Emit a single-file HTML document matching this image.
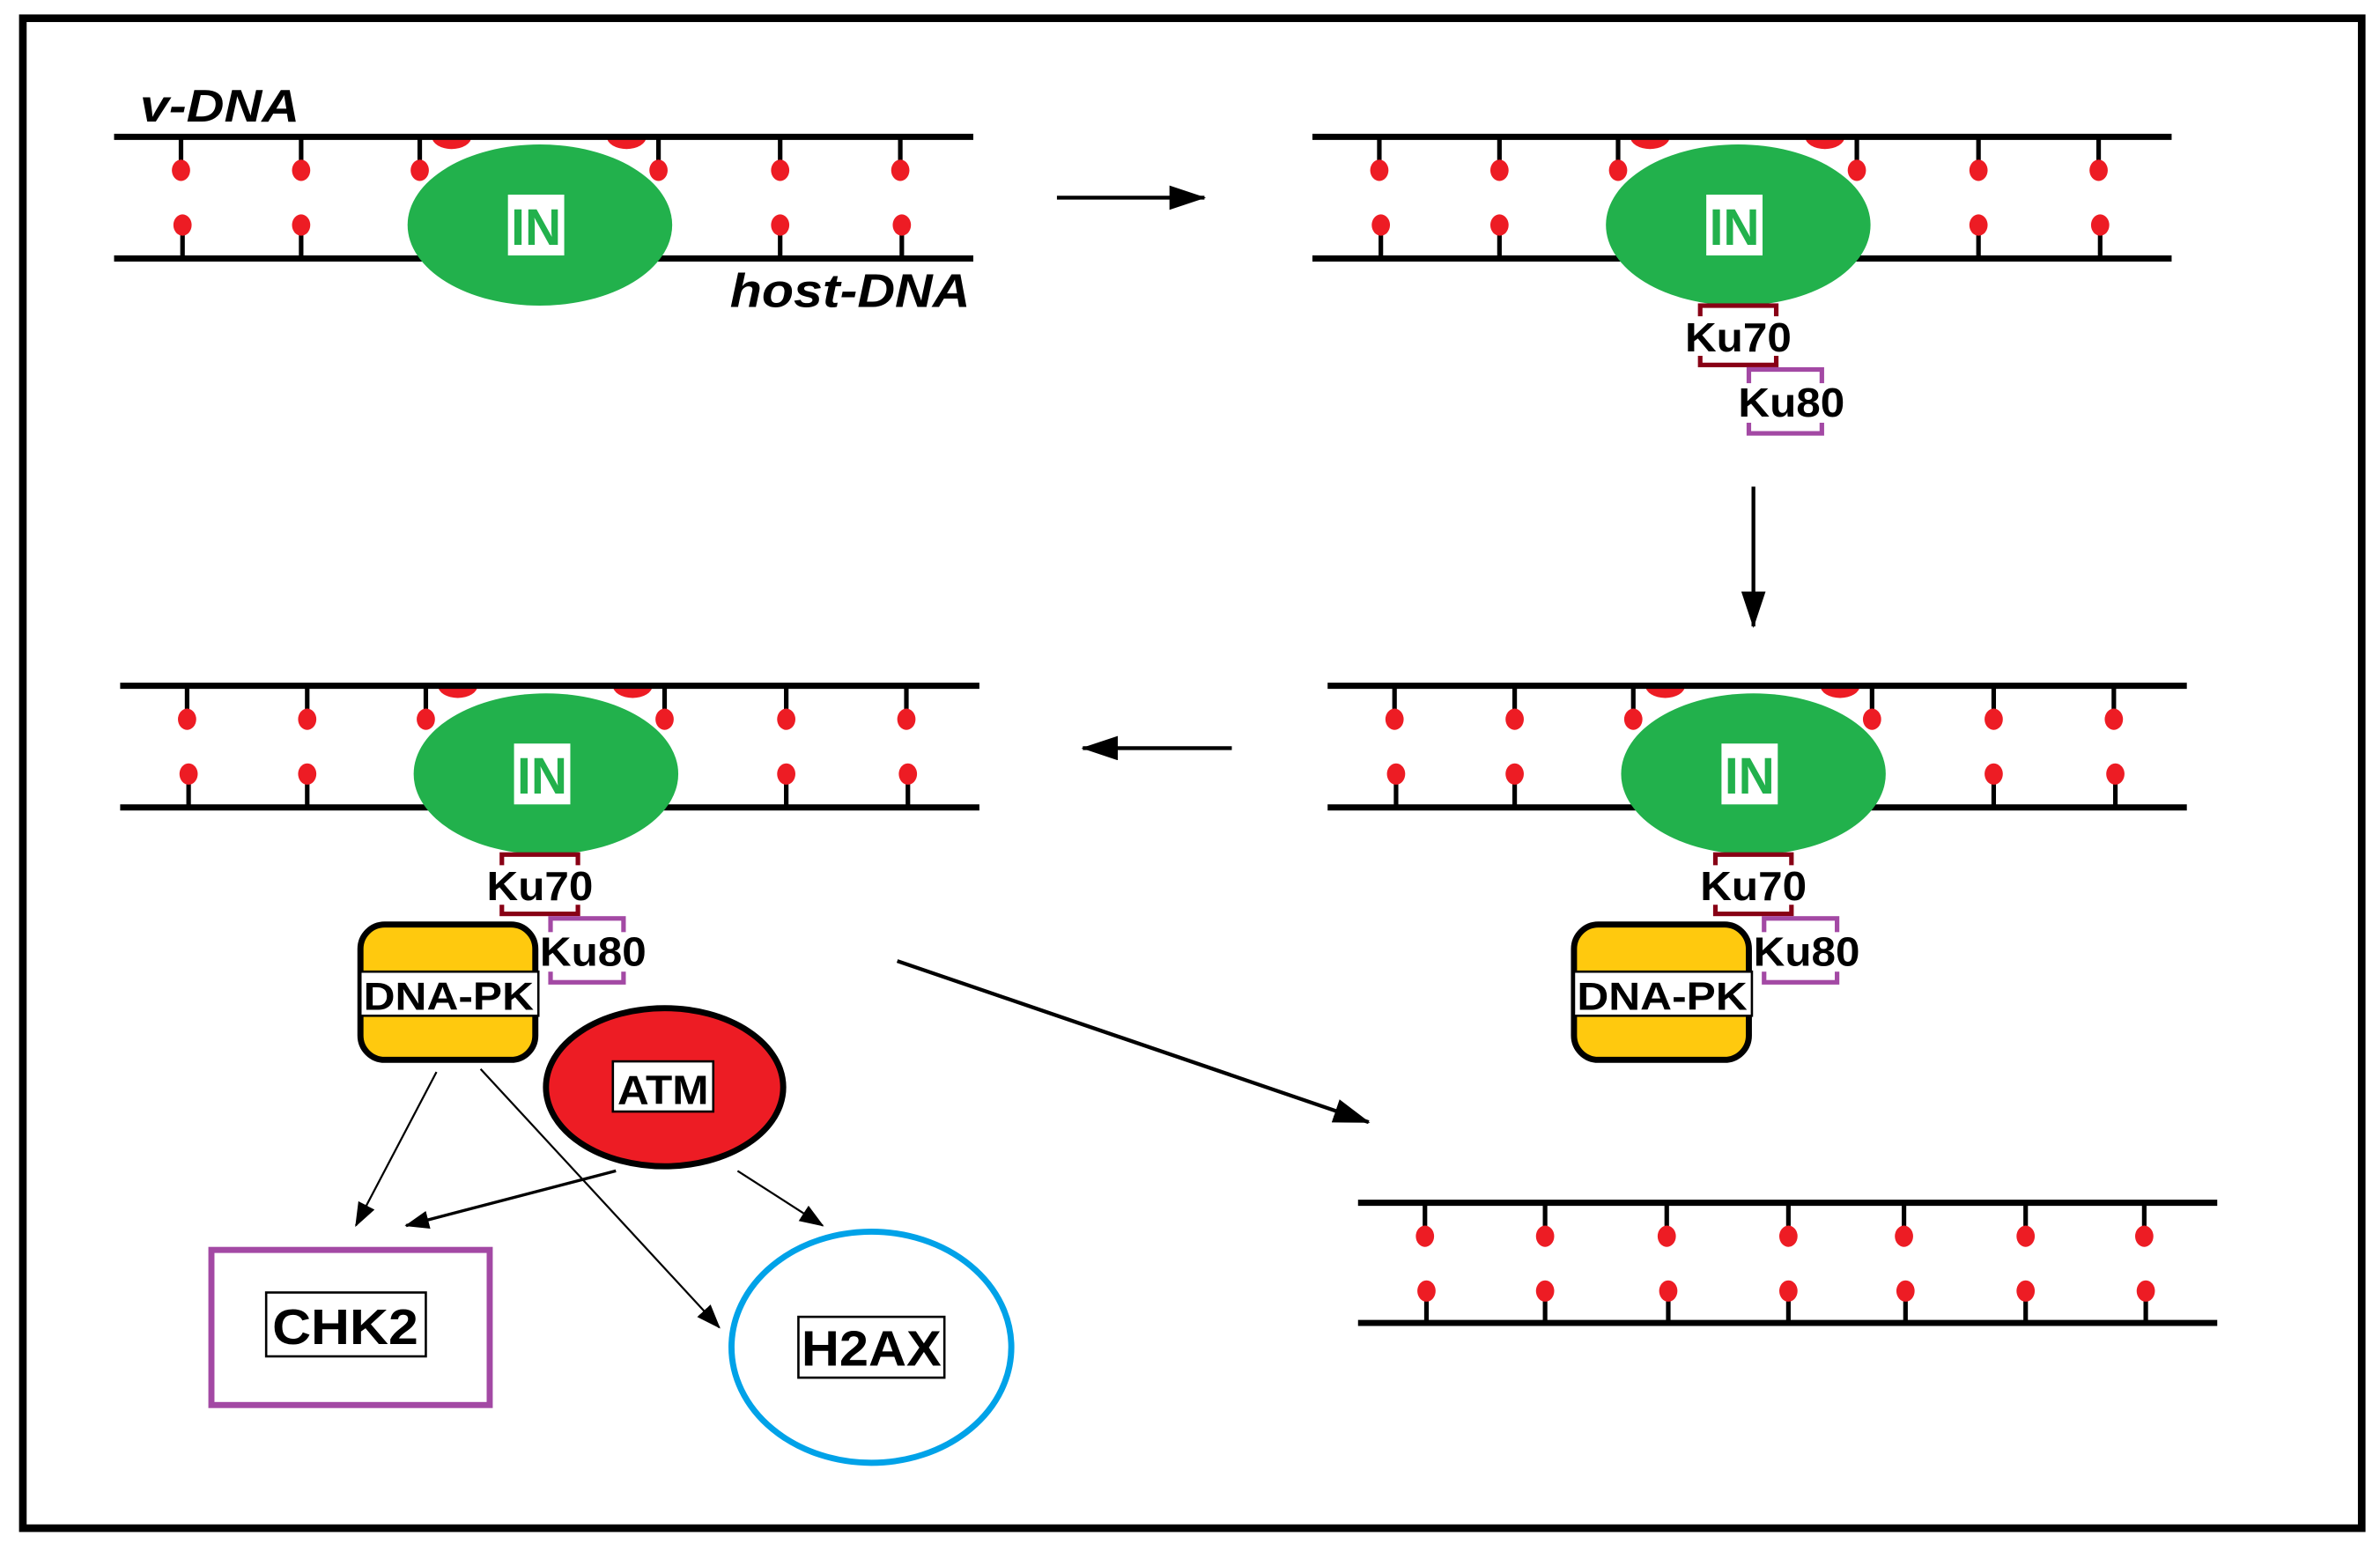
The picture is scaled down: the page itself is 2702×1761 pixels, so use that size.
<!DOCTYPE html>
<html><head><meta charset="utf-8"><style>
html,body{margin:0;padding:0;background:#fff;}
svg{display:block;}
text{font-family:"Liberation Sans",sans-serif;}
</style></head><body>
<svg width="2702" height="1761" viewBox="0 0 1565 1020" xmlns="http://www.w3.org/2000/svg">
<defs>
<marker id="ahs" markerWidth="16" markerHeight="12" refX="15" refY="6" orient="auto" markerUnits="userSpaceOnUse">
<path d="M0,0 L16,6 L0,12 z" fill="#000"/></marker>
<marker id="ahb" markerWidth="24" markerHeight="16" refX="23" refY="8" orient="auto" markerUnits="userSpaceOnUse">
<path d="M0,0 L24,8 L0,16 z" fill="#000"/></marker>
<g id="dna">
<path d="M284,90 A13,8 0 0 0 310,90 z" fill="#ed1c24"/>
<path d="M399,90 A13,8 0 0 0 425,90 z" fill="#ed1c24"/>
<line x1="75" y1="90" x2="640" y2="90" stroke="#000" stroke-width="4"/>
<line x1="75" y1="170" x2="640" y2="170" stroke="#000" stroke-width="4"/>
<g stroke="#000" stroke-width="3">
<line x1="119" y1="90" x2="119" y2="112"/><line x1="198" y1="90" x2="198" y2="112"/><line x1="276" y1="90" x2="276" y2="112"/>
<line x1="433" y1="90" x2="433" y2="112"/><line x1="513" y1="90" x2="513" y2="112"/><line x1="592" y1="90" x2="592" y2="112"/>
<line x1="120" y1="148" x2="120" y2="170"/><line x1="198" y1="148" x2="198" y2="170"/>
<line x1="513" y1="148" x2="513" y2="170"/><line x1="593" y1="148" x2="593" y2="170"/>
</g>
<g fill="#ed1c24">
<ellipse cx="119" cy="112" rx="6" ry="7"/><ellipse cx="198" cy="112" rx="6" ry="7"/><ellipse cx="276" cy="112" rx="6" ry="7"/>
<ellipse cx="433" cy="112" rx="6" ry="7"/><ellipse cx="513" cy="112" rx="6" ry="7"/><ellipse cx="592" cy="112" rx="6" ry="7"/>
<ellipse cx="120" cy="148" rx="6" ry="7"/><ellipse cx="198" cy="148" rx="6" ry="7"/>
<ellipse cx="513" cy="148" rx="6" ry="7"/><ellipse cx="593" cy="148" rx="6" ry="7"/>
</g>
<ellipse cx="355" cy="148" rx="87" ry="53" fill="#22b14c"/>
<rect x="334" y="128" width="37" height="40" fill="#fff"/>
<text x="352.5" y="161" font-size="34" fill="#22b14c" text-anchor="middle" font-weight="bold" textLength="33" lengthAdjust="spacingAndGlyphs">IN</text>
</g>
<g id="ku">
<rect x="326" y="201" width="50" height="39" fill="#fff" stroke="#880015" stroke-width="3"/>
<rect x="358" y="243" width="48" height="42" fill="#fff" stroke="#a349a4" stroke-width="3"/>
<rect x="318" y="208" width="70" height="26" fill="#fff"/>
<rect x="350" y="252" width="72" height="26" fill="#fff"/>
<text x="351" y="231" font-size="27" font-weight="bold" text-anchor="middle" textLength="70" lengthAdjust="spacingAndGlyphs">Ku70</text>
<text x="386" y="274" font-size="27" font-weight="bold" text-anchor="middle" textLength="70" lengthAdjust="spacingAndGlyphs">Ku80</text>
</g>
<g id="pk">
<rect x="0" y="0" width="115" height="89" rx="16" fill="#ffc90e" stroke="#000" stroke-width="4"/>
<rect x="0" y="31" width="117" height="29" fill="#fff" stroke="#000" stroke-width="1.5"/>
<text x="58" y="56" font-size="26" font-weight="bold" text-anchor="middle" textLength="112" lengthAdjust="spacingAndGlyphs">DNA-PK</text>
</g>
</defs>
<rect x="15" y="12" width="1538" height="993" fill="#fff" stroke="#000" stroke-width="5"/>

<use href="#dna"/>
<text x="92" y="80" font-size="30" font-style="italic" font-weight="bold" textLength="105" lengthAdjust="spacingAndGlyphs">v-DNA</text>
<text x="480" y="202" font-size="31" font-style="italic" font-weight="bold" textLength="158" lengthAdjust="spacingAndGlyphs">host-DNA</text>
<line x1="695" y1="130" x2="792" y2="130" stroke="#000" stroke-width="2.5" marker-end="url(#ahb)"/>

<use href="#dna" transform="translate(788,0)"/>
<use href="#ku" transform="translate(792,0)"/>
<line x1="1153" y1="320" x2="1153" y2="412" stroke="#000" stroke-width="2.5" marker-end="url(#ahb)"/>

<use href="#dna" transform="translate(4,361)"/>
<use href="#ku" transform="translate(4,361)"/>
<use href="#pk" transform="translate(237,608)"/>
<line x1="810" y1="492" x2="712" y2="492" stroke="#000" stroke-width="2.5" marker-end="url(#ahb)"/>

<use href="#dna" transform="translate(798,361)"/>
<use href="#ku" transform="translate(802,361)"/>
<use href="#pk" transform="translate(1035,608)"/>

<line x1="590" y1="632" x2="900" y2="738" stroke="#000" stroke-width="2.5" marker-end="url(#ahb)"/>

<g>
<line x1="893" y1="791" x2="1458" y2="791" stroke="#000" stroke-width="4"/>
<line x1="893" y1="870" x2="1458" y2="870" stroke="#000" stroke-width="4"/>
<g stroke="#000" stroke-width="3">
<line x1="937" y1="791" x2="937" y2="813"/><line x1="1016" y1="791" x2="1016" y2="813"/><line x1="1096" y1="791" x2="1096" y2="813"/><line x1="1176" y1="791" x2="1176" y2="813"/><line x1="1252" y1="791" x2="1252" y2="813"/><line x1="1332" y1="791" x2="1332" y2="813"/><line x1="1410" y1="791" x2="1410" y2="813"/>
<line x1="938" y1="849" x2="938" y2="870"/><line x1="1016" y1="849" x2="1016" y2="870"/><line x1="1097" y1="849" x2="1097" y2="870"/><line x1="1176" y1="849" x2="1176" y2="870"/><line x1="1253" y1="849" x2="1253" y2="870"/><line x1="1332" y1="849" x2="1332" y2="870"/><line x1="1411" y1="849" x2="1411" y2="870"/>
</g>
<g fill="#ed1c24">
<ellipse cx="937" cy="813" rx="6" ry="7"/><ellipse cx="1016" cy="813" rx="6" ry="7"/><ellipse cx="1096" cy="813" rx="6" ry="7"/><ellipse cx="1176" cy="813" rx="6" ry="7"/><ellipse cx="1252" cy="813" rx="6" ry="7"/><ellipse cx="1332" cy="813" rx="6" ry="7"/><ellipse cx="1410" cy="813" rx="6" ry="7"/>
<ellipse cx="938" cy="849" rx="6" ry="7"/><ellipse cx="1016" cy="849" rx="6" ry="7"/><ellipse cx="1097" cy="849" rx="6" ry="7"/><ellipse cx="1176" cy="849" rx="6" ry="7"/><ellipse cx="1253" cy="849" rx="6" ry="7"/><ellipse cx="1332" cy="849" rx="6" ry="7"/><ellipse cx="1411" cy="849" rx="6" ry="7"/>
</g>
</g>

<ellipse cx="437" cy="715" rx="78" ry="52" fill="#ed1c24" stroke="#000" stroke-width="4"/>
<rect x="403" y="698" width="66" height="33" fill="#fff" stroke="#000" stroke-width="1.5"/>
<text x="436" y="726" font-size="27" font-weight="bold" text-anchor="middle" textLength="60" lengthAdjust="spacingAndGlyphs">ATM</text>

<rect x="139" y="822" width="183" height="102" fill="#fff" stroke="#a349a4" stroke-width="4"/>
<rect x="175" y="850" width="105" height="42" fill="#fff" stroke="#000" stroke-width="1.5"/>
<text x="227" y="884" font-size="33" font-weight="bold" text-anchor="middle" textLength="96" lengthAdjust="spacingAndGlyphs">CHK2</text>

<ellipse cx="573" cy="886" rx="92" ry="76" fill="#fff" stroke="#00a2e8" stroke-width="4"/>
<rect x="525" y="866" width="96" height="40" fill="#fff" stroke="#000" stroke-width="1.5"/>
<text x="573" y="898" font-size="33" font-weight="bold" text-anchor="middle" textLength="92" lengthAdjust="spacingAndGlyphs">H2AX</text>

<g stroke="#000" stroke-width="1.3" fill="none">
<line x1="287" y1="705" x2="234" y2="806" marker-end="url(#ahs)"/>
<line x1="316" y1="703" x2="473" y2="873" marker-end="url(#ahs)"/>
<line x1="405" y1="770" x2="267" y2="806" stroke-width="2" marker-end="url(#ahs)"/>
<line x1="485" y1="770" x2="541" y2="806" marker-end="url(#ahs)"/>
</g>
</svg>
</body></html>
